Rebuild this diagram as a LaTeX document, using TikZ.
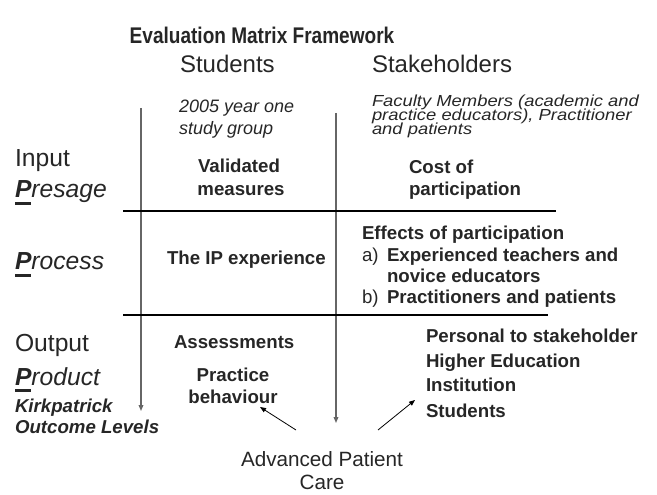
\documentclass[tikz,border=0pt]{standalone}
\usepackage{fontspec}
\usepackage{graphicx}
\setmainfont{Liberation Sans}
\usetikzlibrary{arrows.meta}
\newcommand\thickul[1]{\setbox0\hbox{#1}\rlap{\rule[-5pt]{\wd0}{2.2pt}}\box0}
\newcommand\wideit[1]{\scalebox{1.15}[1]{#1}}
\begin{document}
\begin{tikzpicture}[x=0.75pt,y=-0.75pt,
  every node/.style={inner sep=0pt,outer sep=0pt,text=black!85},
  lw/.style={anchor=base west},
  lc/.style={anchor=base},
  ttl/.style={font=\fontsize{17}{20}\selectfont\bfseries},
  hd/.style={font=\fontsize{18}{22}\selectfont},
  side/.style={font=\fontsize{18.5}{22}\selectfont},
  sidei/.style={font=\fontsize{18.5}{22}\selectfont\itshape},
  note/.style={font=\fontsize{13.5}{16}\selectfont\itshape},
  notef/.style={font=\fontsize{12}{14}\selectfont\itshape},
  body/.style={font=\fontsize{14}{16}\selectfont\bfseries},
  bodyr/.style={font=\fontsize{14}{16}\selectfont},
  kirk/.style={font=\fontsize{14}{16}\selectfont\bfseries\itshape},
  apc/.style={font=\fontsize{15.5}{18}\selectfont},
  vline/.style={draw=black!60,line width=0.9pt,-{Triangle[length=4.5pt,width=3.5pt]}},
  hline/.style={draw=black,line width=0.9pt},
  diag/.style={draw=black,line width=0.6pt,-{Triangle[length=4.5pt,width=3.5pt]}}]
\useasboundingbox (0,0) rectangle (657,495);
% title and headers
\node[ttl,lc] (title) at (262,44) {\scalebox{0.84}[1]{Evaluation Matrix Framework}};
\node[hd,lw] (students) at (180,73) {Students};
\node[hd,lw] (stake) at (372,73) {Stakeholders};
% grid
\coordinate (vLt) at (141,108);
\coordinate (vLb) at (141,411);
\coordinate (vMt) at (336,113);
\coordinate (vMb) at (336,423);
\coordinate (h1a) at (123,211);
\coordinate (h1b) at (556,211);
\coordinate (h2a) at (123,315);
\coordinate (h2b) at (548,315);
\draw[vline] (vLt) -- (vLb);
\draw[vline] (vMt) -- (vMb);
\draw[hline] (h1a) -- (h1b);
\draw[hline] (h2a) -- (h2b);
% left labels
\node[side,lw] (input) at (15,167) {Input};
\node[sidei,lw] (presage) at (15,198) {\thickul{\bfseries P}resage};
\node[sidei,lw] (process) at (15,270) {\thickul{\bfseries P}rocess};
\node[side,lw] (output) at (15,352) {Output};
\node[sidei,lw] (product) at (15,385) {\thickul{\bfseries P}roduct};
\node[kirk,lw] (kirk1) at (15,412) {Kirkpatrick};
\node[kirk,lw] (kirk2) at (15,433) {Outcome Levels};
% students column
\node[note,lw] (s1) at (179,113) {2005 year one};
\node[note,lw] (s2) at (179,135) {study group};
\node[body,lc] (val1) at (239,173) {Validated};
\node[body,lc] (val2) at (241,196) {measures};
\node[body,lw] (ipexp) at (167,265) {The IP experience};
\node[body,lw] (assess) at (174,349) {Assessments};
\node[body,lc] (prac1) at (233,382) {Practice};
\node[body,lc] (prac2) at (233,403) {behaviour};
% stakeholders column
\node[notef,lw] (f1) at (372,107) {\wideit{Faculty Members (academic and}};
\node[notef,lw] (f2) at (372,121) {\wideit{practice educators), Practitioner}};
\node[notef,lw] (f3) at (372,135) {\wideit{and patients}};
\node[body,lw] (cost1) at (409,174) {Cost of};
\node[body,lw] (cost2) at (409,196) {participation};
\node[body,lw] (eff) at (362,240) {Effects of participation};
\node[bodyr,lw] (la) at (362,262) {a)};
\node[body,lw] (ea1) at (387,262) {Experienced teachers and};
\node[body,lw] (ea2) at (387,283) {novice educators};
\node[bodyr,lw] (lb) at (362,304) {b)};
\node[body,lw] (eb) at (387,304) {Practitioners and patients};
\node[body,lw] (p1) at (426,343) {Personal to stakeholder};
\node[body,lw] (p2) at (426,368) {Higher Education};
\node[body,lw] (p3) at (426,392) {Institution};
\node[body,lw] (p4) at (426,417) {Students};
% bottom
\node[apc,lc] (apc1) at (322,466) {Advanced Patient};
\node[apc,lc] (apc2) at (322,489) {Care};
\coordinate (dLs) at (296,430);
\coordinate (dLe) at (260,407);
\coordinate (dRs) at (378,430);
\coordinate (dRe) at (415,400);
\draw[diag] (dLs) -- (dLe);
\draw[diag] (dRs) -- (dRe);
\end{tikzpicture}
\end{document}
